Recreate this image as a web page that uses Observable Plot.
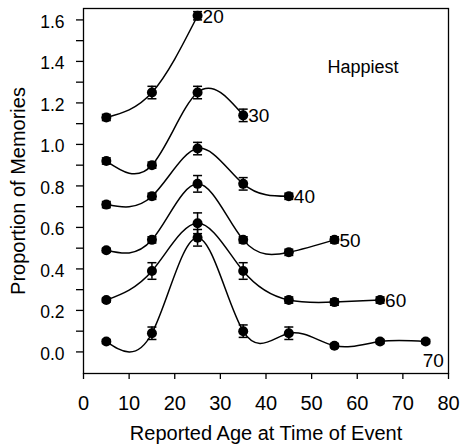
<!DOCTYPE html>
<html><head><meta charset="utf-8">
<script src="https://cdn.jsdelivr.net/npm/d3@7"></script>
<script src="https://cdn.jsdelivr.net/npm/@observablehq/plot@0.6"></script>
<style>body{margin:0;background:#fff} svg{display:block}</style>
</head><body><div id="chart"></div>
<script>
// Reported age at time of event (x)
const ages = [5, 15, 25, 35, 45, 55, 65, 75];
// Series (current age groups)
const seriesNames = ["20", "30", "40", "50", "60", "70"];
// Proportion of memories per series
const s20 = [1.13, 1.25, 1.62];
const s30 = [0.92, 0.90, 1.25, 1.14];
const s40 = [0.71, 0.75, 0.98, 0.81, 0.75];
const s50 = [0.49, 0.54, 0.81, 0.54, 0.48, 0.54];
const s60 = [0.25, 0.39, 0.62, 0.39, 0.25, 0.24, 0.25];
const s70 = [0.05, 0.09, 0.55, 0.10, 0.09, 0.03, 0.05, 0.05];
// Error bar half-widths
const e20 = [0.015, 0.03, 0.02];
const e30 = [0.015, 0.015, 0.03, 0.03];
const e40 = [0.015, 0.015, 0.03, 0.03, 0.015];
const e50 = [0.01, 0.015, 0.04, 0.015, 0.015, 0.015];
const e60 = [0.01, 0.04, 0.05, 0.04, 0.015, 0.015, 0.015];
const e70 = [0.01, 0.03, 0.04, 0.03, 0.03, 0.01, 0.01, 0.01];
// Ticks and text
const xTicks = [0, 10, 20, 30, 40, 50, 60, 70, 80];
const yTicks = [0, 0.2, 0.4, 0.6, 0.8, 1.0, 1.2, 1.4, 1.6];
const yAllTicks = [0, 0.1, 0.2, 0.3, 0.4, 0.5, 0.6, 0.7, 0.8, 0.9, 1.0, 1.1, 1.2, 1.3, 1.4, 1.5, 1.6];
const xTitle = "Reported Age at Time of Event";
const yTitle = "Proportion of Memories";
const panelTitle = "Happiest";

const values = [s20, s30, s40, s50, s60, s70];
const errs = [e20, e30, e40, e50, e60, e70];
const rows = [];
seriesNames.forEach((name, k) => {
  values[k].forEach((v, i) => rows.push({series: name, age: ages[i], value: v, err: errs[k][i]}));
});
const lastPoints = seriesNames.map(name => rows.filter(r => r.series === name).at(-1));

const capSymbol = {
  draw(ctx, size) { ctx.moveTo(-4.5, 0); ctx.lineTo(4.5, 0); }
};

const font = "'Liberation Sans', Arial, Helvetica, sans-serif";

const chart = Plot.plot({
  width: 461,
  height: 446,
  marginLeft: 83,
  marginRight: 13,
  marginTop: 8,
  marginBottom: 73,
  style: {fontFamily: font, color: "black", background: "white"},
  x: {domain: [0, 80]},
  y: {domain: [-0.104, 1.655]},
  marks: [
    Plot.frame({stroke: "black", strokeWidth: 1.3}),
    Plot.axisX({ticks: xTicks, tickSize: 6, tickPadding: 16, fontSize: 20, label: null, strokeWidth: 1.3}),
    Plot.axisY({ticks: yAllTicks, tickSize: 7, tickFormat: () => "", label: null, strokeWidth: 1.3}),
    Plot.axisY({ticks: yTicks, tickSize: 0, tickPadding: 19, tickFormat: d3.format(".1f"), fontSize: 17.5, dy: 2, label: null}),
    Plot.text([xTitle], {frameAnchor: "bottom", textAnchor: "middle", lineAnchor: "middle", dy: 60, fontSize: 20}),
    Plot.text([yTitle], {frameAnchor: "left", textAnchor: "middle", lineAnchor: "middle", dx: -65, rotate: -90, fontSize: 20}),
    Plot.text([panelTitle], {frameAnchor: "top-right", textAnchor: "end", lineAnchor: "middle", dx: -50, dy: 59, fontSize: 18}),
    Plot.line(rows, {x: "age", y: "value", z: "series", curve: "natural", stroke: "black", strokeWidth: 1.5}),
    Plot.ruleX(rows, {x: "age", y1: d => d.value - d.err, y2: d => d.value + d.err, stroke: "black", strokeWidth: 1.5}),
    Plot.dot(rows, {x: "age", y: d => d.value + d.err, symbol: capSymbol, r: 3, stroke: "black", fill: "none", strokeWidth: 1.5}),
    Plot.dot(rows, {x: "age", y: d => d.value - d.err, symbol: capSymbol, r: 3, stroke: "black", fill: "none", strokeWidth: 1.5}),
    Plot.dot(rows, {x: "age", y: "value", r: 5, fill: "black", stroke: "none"}),
    Plot.text(lastPoints.filter(d => d.series !== "70"), {x: "age", y: "value", text: "series", textAnchor: "start", dx: 5, dy: 1, fontSize: 19}),
    Plot.text(lastPoints.filter(d => d.series === "70"), {x: "age", y: "value", text: "series", textAnchor: "start", dx: -3, dy: 19, fontSize: 19})
  ]
});
document.getElementById("chart").appendChild(chart);
</script>
</body></html>
